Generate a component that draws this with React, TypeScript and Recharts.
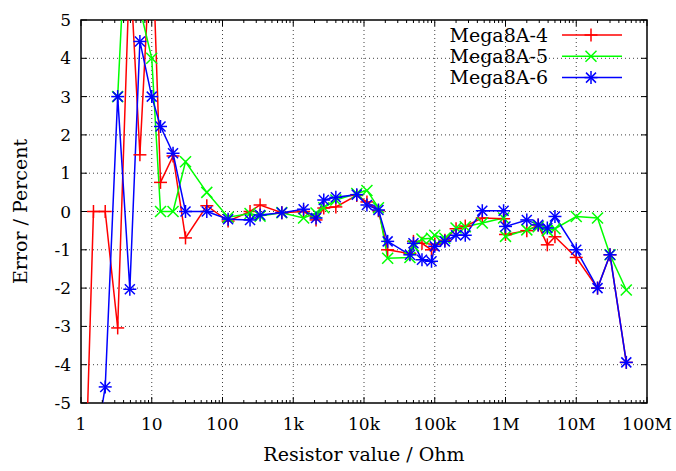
import { LineChart, Line, XAxis, YAxis, ReferenceLine, ReferenceArea, Legend } from 'recharts';

// measured resistor values (Ohm) and the error of each chip in percent
const R_VALUES = [
  1.2, 1.5, 2.2, 3.3, 4.9, 6.8, 10, 13.3, 20, 30, 60, 120, 245, 340, 690, 1400, 2100, 2700, 4000,
  7900, 11000, 16000, 21600, 44600, 50000, 66000, 90000, 100000, 139000, 200000, 270000, 470000,
  940000, 1000000, 2000000, 2900000, 3900000, 5000000, 10000000, 20000000, 30000000, 51000000,
];

const ERR_A4 = [
  -6, 0, 0, -3.04, 6.5, 1.48, 7.5, 0.76, 1.45, -0.69, 0.15, -0.25, 0, 0.17, -0.03, 0, -0.22, 0.09,
  0.12, 0.42, 0.25, 0.02, -1.0, -1.1, -0.78, -0.83, -1.0, -0.85, -0.75, -0.45, -0.38, -0.17, -0.19,
  -0.6, -0.5, -0.35, -0.87, -0.66, -1.2, -2.0, -1.13, -3.94,
];

const ERR_A5 = [
  null, null, null, 3.0, 9.4, 5.3, 4.0, 0, 0, 1.3, 0.5, -0.15, -0.05, -0.12, -0.03, -0.17, -0.04,
  0.1, 0.3, 0.47, 0.55, 0.1, -1.22, -1.2, -0.9, -0.72, -0.7, -0.62, -0.7, -0.43, -0.4, -0.3, -0.17,
  -0.65, -0.48, -0.4, -0.5, -0.45, -0.13, -0.17, -1.13, -2.05,
];

const ERR_A6 = [
  null, -6.45, -4.58, 3.0, -2.03, 4.44, 3.0, 2.22, 1.52, 0, 0, -0.2, -0.22, -0.09, -0.03, 0.06,
  -0.17, 0.3, 0.37, 0.44, 0.17, 0.04, -0.78, -1.13, -0.83, -1.26, -1.3, -0.91, -0.78, -0.62, -0.62,
  0.02, 0.02, -0.39, -0.22, -0.35, -0.43, -0.13, -1.0, -2.0, -1.13, -3.94,
];

const X_MAJOR = [1, 10, 100, 1e3, 1e4, 1e5, 1e6, 1e7, 1e8];
const X_LABELS = ['1', '10', '100', '1k', '10k', '100k', '1M', '10M', '100M'];
const Y_TICKS = [-5, -4, -3, -2, -1, 0, 1, 2, 3, 4, 5];

const SERIES = [
  { key: 'a4', name: 'Mega8A-4', color: '#ff0000', marker: 'plus' },
  { key: 'a5', name: 'Mega8A-5', color: '#00ff00', marker: 'cross' },
  { key: 'a6', name: 'Mega8A-6', color: '#0000ff', marker: 'star' },
];

const data = R_VALUES.map((r, i) => ({ r, a4: ERR_A4[i], a5: ERR_A5[i], a6: ERR_A6[i] }));

const X_TICKS: number[] = [];
X_MAJOR.forEach((d, i) => {
  X_TICKS.push(d);
  if (i < X_MAJOR.length - 1) {
    for (let m = 2; m <= 9; m++) X_TICKS.push(m * d);
  }
});

const FONT = '"DejaVu Serif", serif';
const PLOT_W = 566;
const PLOT_H = 383;

function Marker({ kind, cx, cy, color }: { kind: string; cx: number; cy: number; color: string }) {
  const p = { stroke: color, strokeWidth: 1.5 };
  if (kind === 'plus') {
    const s = 6.5;
    return (
      <g>
        <line x1={cx - s} y1={cy} x2={cx + s} y2={cy} {...p} />
        <line x1={cx} y1={cy - s} x2={cx} y2={cy + s} {...p} />
      </g>
    );
  }
  if (kind === 'cross') {
    const d = 5.5;
    return (
      <g>
        <line x1={cx - d} y1={cy - d} x2={cx + d} y2={cy + d} {...p} />
        <line x1={cx - d} y1={cy + d} x2={cx + d} y2={cy - d} {...p} />
      </g>
    );
  }
  const s = 6.5;
  const d = 5;
  return (
    <g>
      <line x1={cx - s} y1={cy} x2={cx + s} y2={cy} {...p} />
      <line x1={cx} y1={cy - s} x2={cx} y2={cy + s} {...p} />
      <line x1={cx - d} y1={cy - d} x2={cx + d} y2={cy + d} {...p} />
      <line x1={cx - d} y1={cy + d} x2={cx + d} y2={cy - d} {...p} />
    </g>
  );
}

const XTick = (props: any) => {
  const { x, y, payload } = props;
  const base = y - 8;
  const idx = X_MAJOR.indexOf(payload.value);
  const len = idx >= 0 ? 6 : 3;
  return (
    <g>
      <line x1={x} y1={base} x2={x} y2={base - len} stroke="#000" strokeWidth={1} />
      <line x1={x} y1={base - PLOT_H} x2={x} y2={base - PLOT_H + len} stroke="#000" strokeWidth={1} />
      {idx >= 0 && (
        <text x={x} y={base + 27} textAnchor="middle" fontFamily={FONT} fontSize={17} fill="#000">
          {X_LABELS[idx]}
        </text>
      )}
    </g>
  );
};

const YTick = (props: any) => {
  const { x, y, payload } = props;
  const base = x + 8;
  return (
    <g>
      <line x1={base} y1={y} x2={base + 6} y2={y} stroke="#000" strokeWidth={1} />
      <line x1={base + PLOT_W} y1={y} x2={base + PLOT_W - 6} y2={y} stroke="#000" strokeWidth={1} />
      <text x={base - 10} y={y + 6} textAnchor="end" fontFamily={FONT} fontSize={17} fill="#000">
        {payload.value}
      </text>
    </g>
  );
};

const XTitle = () => (
  <text x={364} y={461} textAnchor="middle" fontFamily={FONT} fontSize={19} fill="#000">
    Resistor value / Ohm
  </text>
);

const YTitle = () => (
  <text
    x={27}
    y={211.5}
    textAnchor="middle"
    fontFamily={FONT}
    fontSize={19}
    fill="#000"
    transform="rotate(-90 27 211.5)"
  >
    Error / Percent
  </text>
);

const LegendBox = () => (
  <svg width={200} height={66} style={{ display: 'block' }}>
    {SERIES.map((s, i) => {
      const cy = 11 + i * 21.3;
      return (
        <g key={s.key}>
          <text x={118} y={cy + 6.5} textAnchor="end" fontFamily={FONT} fontSize={19} fill="#000">
            {s.name}
          </text>
          <line x1={132} y1={cy} x2={192} y2={cy} stroke={s.color} strokeWidth={1.5} />
          <Marker kind={s.marker} cx={161} cy={cy} color={s.color} />
        </g>
      );
    })}
  </svg>
);

export default function App() {
  return (
    <div style={{ position: 'absolute', left: 0, top: 0, width: 676, height: 471, background: '#fff' }}>
      <LineChart width={676} height={471} data={data} margin={{ top: 20, right: 29, bottom: 0, left: 0 }}>
        <XAxis
          type="number"
          dataKey="r"
          scale="log"
          domain={[1, 1e8]}
          allowDataOverflow
          ticks={X_TICKS}
          interval={0}
          tick={<XTick />}
          tickLine={false}
          axisLine={false}
          tickSize={6}
          tickMargin={2}
          height={68}
          label={<XTitle />}
        />
        <YAxis
          type="number"
          domain={[-5, 5]}
          allowDataOverflow
          ticks={Y_TICKS}
          interval={0}
          tick={<YTick />}
          tickLine={false}
          axisLine={false}
          tickSize={6}
          tickMargin={2}
          width={81}
          label={<YTitle />}
        />
        {X_MAJOR.slice(1, -1).map((v) => (
          <ReferenceLine key={`gx${v}`} x={v} stroke="#000" strokeOpacity={0.75} strokeDasharray="1 3" />
        ))}
        {Y_TICKS.slice(1, -1).map((v) => (
          <ReferenceLine key={`gy${v}`} y={v} stroke="#000" strokeOpacity={0.75} strokeDasharray="1 3" />
        ))}
        <ReferenceArea x1={1} x2={1e8} y1={-5} y2={5} fill="none" fillOpacity={0} stroke="#000" strokeWidth={1.5} />
        {SERIES.map((s) => (
          <Line
            key={s.key}
            type="linear"
            dataKey={s.key}
            name={s.name}
            stroke={s.color}
            strokeWidth={1.5}
            isAnimationActive={false}
            activeDot={false}
            dot={(p: any) =>
              p.cx == null || p.cy == null || p.value == null ? (
                <g key={`${s.key}-${p.index}`} />
              ) : (
                <Marker key={`${s.key}-${p.index}`} kind={s.marker} cx={p.cx} cy={p.cy} color={s.color} />
              )
            }
          />
        ))}
        <Legend
          layout="horizontal"
          verticalAlign="middle"
          align="center"
          wrapperStyle={{ top: 24, left: 430, width: 200, height: 66 }}
          content={() => <LegendBox />}
        />
      </LineChart>
    </div>
  );
}
